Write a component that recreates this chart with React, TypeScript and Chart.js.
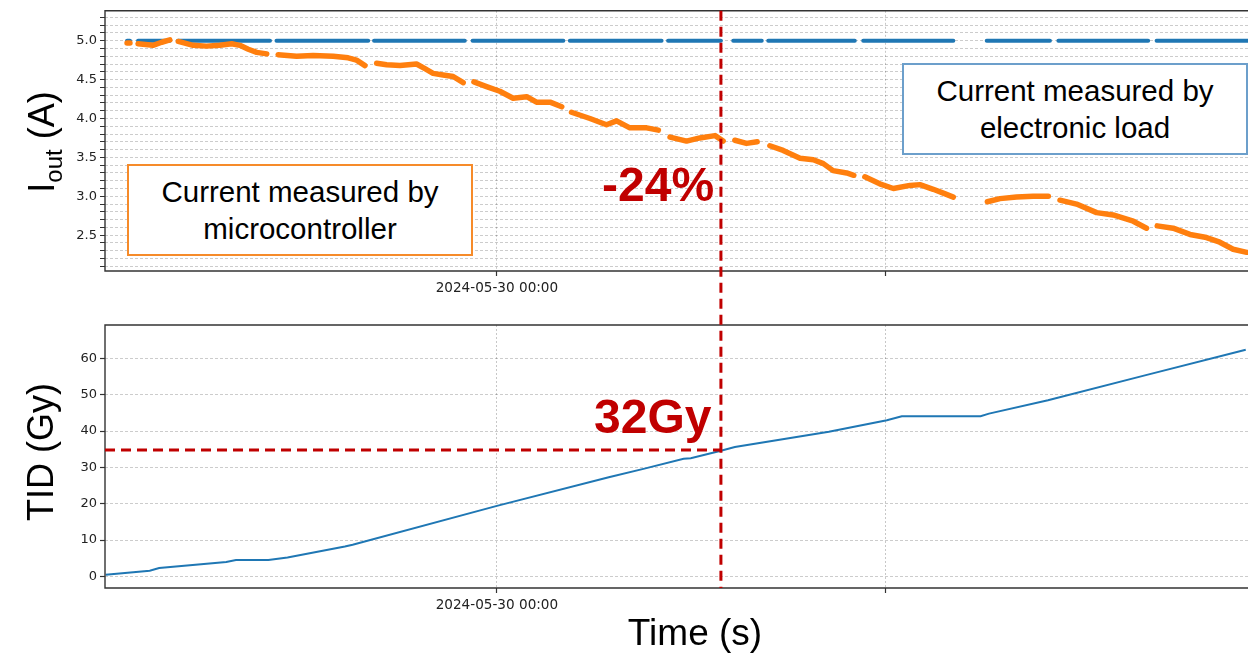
import React, { useEffect, useRef } from "react";
import { Chart, registerables } from "chart.js";

Chart.register(...registerables);

const CANVAS_W = 1248;
const CANVAS_H = 654;

// Time axis in hours relative to 2024-05-30 00:00
const timeMin = -12.09;
const timeMax = 23.17;
const timeTicks = [0, 12];
const timeTickLabels = ["2024-05-30 00:00", ""];

// Top panel: output current (A)
const currentMin = 2.04;
const currentMax = 5.384;
const currentMajorTicks = [2.5, 3.0, 3.5, 4.0, 4.5, 5.0];
const currentMinorTicks = [
  2.1, 2.2, 2.3, 2.4, 2.5, 2.6, 2.7, 2.8, 2.9, 3.0, 3.1, 3.2, 3.3, 3.4, 3.5, 3.6, 3.7,
  3.8, 3.9, 4.0, 4.1, 4.2, 4.3, 4.4, 4.5, 4.6, 4.7, 4.8, 4.9, 5.0, 5.1, 5.2, 5.3,
];

// Current measured by microcontroller (null = data gap)
const mcuTime = [
  -11.41, -11.32, -11.2,
  -11.07, -10.61, -10.34, -10.09, -9.96,
  -9.83, -9.37, -8.96, -8.55, -8.18, -7.93, -7.67, -7.41, -7.1, -6.9,
  -6.75, -6.18, -5.67, -5.05, -4.59, -4.33, -4.07, -3.9,
  -3.71, -3.4, -2.99, -2.48, -2.22, -1.97, -1.66, -1.35, -1.04, -0.9,
  -0.71, -0.32, 0.09, 0.5, 0.92, 1.22, 1.64, 2.0, 2.15,
  2.3, 2.87, 3.38, 3.69, 4.1, 4.62, 4.98, 5.15,
  5.34, 5.85, 6.26, 6.73, 6.98, 7.15,
  7.34, 7.7, 8.03, 8.2,
  8.42, 8.83, 9.35, 9.76, 10.07, 10.37, 10.79, 11.01, 11.2,
  11.35, 11.81, 12.23, 12.74, 13.05, 13.46, 13.77, 14.08, 14.6,
  15.13, 15.52, 16.03, 16.54, 17.01, 17.2,
  17.37, 17.88, 18.5, 19.01, 19.63, 20.04, 20.2,
  20.37, 20.86, 21.38, 21.89, 22.3, 22.71, 23.13,
];
const mcuCurrent = [
  4.97, 4.97, null,
  4.96, 4.94, 4.98, 5.01, null,
  4.99, 4.94, 4.93, 4.94, 4.96, 4.94, 4.89, 4.85, 4.83, null,
  4.82, 4.8, 4.81, 4.8, 4.78, 4.75, 4.68, null,
  4.71, 4.69, 4.68, 4.7, 4.64, 4.58, 4.56, 4.54, 4.46, null,
  4.47, 4.41, 4.35, 4.26, 4.28, 4.21, 4.21, 4.15, null,
  4.08, 4.0, 3.92, 3.97, 3.88, 3.88, 3.85, null,
  3.76, 3.71, 3.75, 3.78, 3.71, null,
  3.72, 3.68, 3.7, null,
  3.65, 3.59, 3.49, 3.47, 3.42, 3.33, 3.3, 3.27, null,
  3.25, 3.16, 3.1, 3.14, 3.15, 3.09, 3.04, 2.99, null,
  2.93, 2.97, 2.99, 3.0, 3.0, null,
  2.95, 2.9, 2.79, 2.76, 2.68, 2.59, null,
  2.62, 2.59, 2.51, 2.47, 2.41, 2.32, 2.28,
];

// Current measured by electronic load (null = data gap)
const loadTime = [
  -11.41, -11.32, -11.2,
  -11.07, -10.09, -9.96,
  -9.84, -7.0, -6.9,
  -6.8, -3.97, -3.9,
  -3.79, -0.99, -0.9,
  -0.75, 2.05, 2.15,
  2.25, 5.08, 5.15,
  5.28, 6.91, 7.1,
  7.29, 8.17, 8.25,
  8.37, 11.04, 11.2,
  11.3, 14.08, 14.6,
  15.11, 17.06, 17.2,
  17.32, 20.09, 20.2,
  20.35, 23.17,
];
const loadCurrent = [
  5.0, 5.0, null,
  5.0, 5.0, null,
  5.0, 5.0, null,
  5.0, 5.0, null,
  5.0, 5.0, null,
  5.0, 5.0, null,
  5.0, 5.0, null,
  5.0, 5.0, null,
  5.0, 5.0, null,
  5.0, 5.0, null,
  5.0, 5.0, null,
  5.0, 5.0, null,
  5.0, 5.0, null,
  5.0, 5.0,
];

// Bottom panel: total ionizing dose (Gy)
const doseMin = -3.2;
const doseMax = 69.2;
const doseTicks = [0, 10, 20, 30, 40, 50, 60];
const tidTime = [
  -12.07, -10.71, -10.42, -8.35, -8.05, -7.05, -6.46, -4.69, -4.45, 0.0, 3.45, 4.52,
  5.76, 5.98, 6.91, 7.34, 10.24, 12.03, 12.49, 14.92, 15.18, 17.0, 20.02, 23.1,
];
const tidDose = [
  0.47, 1.57, 2.3, 3.95, 4.5, 4.5, 5.2, 8.2, 8.7, 19.4, 27.3, 29.6,
  32.4, 32.5, 34.6, 35.6, 39.8, 43.0, 44.1, 44.1, 44.8, 48.5, 55.4, 62.4,
];

// Red annotation
const markerTime = 6.91;
const markerDose = 34.8;

const BLUE = "#1f77b4";
const ORANGE = "#ff7f0e";
const RED = "#C00000";
const TICK_FONT = "'DejaVu Sans', sans-serif";
const TEXT_FONT = "'Liberation Sans', Arial, sans-serif";

const zip = (xs: number[], ys: (number | null)[]) => xs.map((x, i) => ({ x, y: ys[i] }));

const framePlugin = {
  id: "frame",
  afterDraw(chart: any) {
    const { ctx, chartArea: a } = chart;
    ctx.save();
    ctx.strokeStyle = "#333333";
    ctx.lineWidth = 1.4;
    ctx.setLineDash([]);
    ctx.beginPath();
    ctx.moveTo(a.right + 5, a.top);
    ctx.lineTo(a.left, a.top);
    ctx.lineTo(a.left, a.bottom);
    ctx.lineTo(a.right + 5, a.bottom);
    ctx.stroke();
    ctx.restore();
  },
};

function timeScale(axisHeight: number) {
  return {
    type: "linear" as const,
    min: timeMin,
    max: timeMax,
    afterBuildTicks: (s: any) => {
      s.ticks = timeTicks.map((v) => ({ value: v }));
    },
    afterFit: (s: any) => {
      s.height = axisHeight;
    },
    ticks: {
      autoSkip: false,
      maxRotation: 0,
      padding: 4,
      color: "#222",
      font: { family: TICK_FONT, size: 13.6 },
      callback: (v: any) => {
        const i = timeTicks.indexOf(Number(v));
        return i >= 0 ? timeTickLabels[i] : "";
      },
    },
    grid: {
      color: "rgba(0,0,0,0.22)",
      lineWidth: 1,
      drawTicks: true,
      tickLength: 5,
      tickColor: "#333",
      tickWidth: 1.2,
    },
    border: { display: false, dash: [2, 2] },
  };
}

export default function App() {
  const topRef = useRef<HTMLCanvasElement | null>(null);
  const botRef = useRef<HTMLCanvasElement | null>(null);

  useEffect(() => {
    if (!topRef.current || !botRef.current) return;

    const topChart = new Chart(topRef.current, {
      type: "line",
      data: {
        datasets: [
          {
            data: zip(mcuTime, mcuCurrent),
            borderColor: ORANGE,
            borderWidth: 5.5,
            pointRadius: 0,
            borderCapStyle: "round",
            borderJoinStyle: "round",
            spanGaps: false,
            tension: 0,
          },
          {
            data: zip(loadTime, loadCurrent),
            borderColor: BLUE,
            borderWidth: 4,
            pointRadius: 0,
            borderCapStyle: "round",
            spanGaps: false,
          },
        ],
      },
      options: {
        animation: false,
        responsive: false,
        devicePixelRatio: 1,
        events: [],
        layout: { padding: { top: 8, left: 0, right: 0, bottom: 0 } },
        plugins: { legend: { display: false }, tooltip: { enabled: false } },
        scales: {
          x: timeScale(CANVAS_H - 271),
          y: {
            type: "linear",
            min: currentMin,
            max: currentMax,
            afterBuildTicks: (s: any) => {
              s.ticks = currentMinorTicks.map((v) => ({ value: v }));
            },
            afterFit: (s: any) => {
              s.width = 105;
            },
            ticks: {
              autoSkip: false,
              padding: 3,
              color: "#222",
              font: { family: TICK_FONT, size: 13 },
              callback: (v: any) => {
                const n = Number(v);
                return currentMajorTicks.some((m) => Math.abs(m - n) < 1e-6) ? n.toFixed(1) : "";
              },
            },
            grid: {
              color: "rgba(0,0,0,0.2)",
              lineWidth: 1,
              drawTicks: true,
              tickLength: 5,
              tickColor: "#333",
              tickWidth: 1,
            },
            border: { display: false, dash: [3, 2] },
          },
        },
      },
      plugins: [framePlugin],
    });

    const markerPlugin = {
      id: "markers",
      afterDraw(chart: any) {
        const { ctx, chartArea: a } = chart;
        const x = chart.scales.x.getPixelForValue(markerTime);
        const y = chart.scales.y.getPixelForValue(markerDose);
        const top = topChart.chartArea ? topChart.chartArea.top : 8;
        ctx.save();
        ctx.strokeStyle = RED;
        ctx.lineWidth = 3;
        ctx.setLineDash([10, 6]);
        ctx.beginPath();
        ctx.moveTo(x, top);
        ctx.lineTo(x, a.bottom);
        ctx.stroke();
        ctx.beginPath();
        ctx.moveTo(a.left, y);
        ctx.lineTo(x, y);
        ctx.stroke();
        ctx.restore();
      },
    };

    const botChart = new Chart(botRef.current, {
      type: "line",
      data: {
        datasets: [
          {
            data: zip(tidTime, tidDose),
            borderColor: BLUE,
            borderWidth: 2,
            pointRadius: 0,
            tension: 0,
          },
        ],
      },
      options: {
        animation: false,
        responsive: false,
        devicePixelRatio: 1,
        events: [],
        layout: { padding: { top: 325, left: 0, right: 0, bottom: 0 } },
        plugins: { legend: { display: false }, tooltip: { enabled: false } },
        scales: {
          x: timeScale(CANVAS_H - 588),
          y: {
            type: "linear",
            min: doseMin,
            max: doseMax,
            afterBuildTicks: (s: any) => {
              s.ticks = doseTicks.map((v) => ({ value: v }));
            },
            afterFit: (s: any) => {
              s.width = 105;
            },
            ticks: {
              autoSkip: false,
              padding: 3,
              color: "#222",
              font: { family: TICK_FONT, size: 13 },
              callback: (v: any) => String(v),
            },
            grid: {
              color: "rgba(0,0,0,0.2)",
              lineWidth: 1,
              drawTicks: true,
              tickLength: 5,
              tickColor: "#333",
              tickWidth: 1.2,
            },
            border: { display: false, dash: [3, 2] },
          },
        },
      },
      plugins: [framePlugin, markerPlugin],
    });

    return () => {
      botChart.destroy();
      topChart.destroy();
    };
  }, []);

  const canvasStyle: React.CSSProperties = {
    position: "absolute",
    left: 0,
    top: 0,
    width: CANVAS_W,
    height: CANVAS_H,
    display: "block",
  };

  const boxStyle = (left: number, top: number, color: string): React.CSSProperties => ({
    position: "absolute",
    left,
    top,
    width: 346,
    height: 92,
    boxSizing: "border-box",
    border: `2.5px solid ${color}`,
    background: "#fff",
    display: "flex",
    alignItems: "center",
    justifyContent: "center",
    textAlign: "center",
    fontFamily: TEXT_FONT,
    fontSize: 29.5,
    lineHeight: "37px",
    color: "#000",
  });

  const redText = (left: number, top: number): React.CSSProperties => ({
    position: "absolute",
    left,
    top,
    fontFamily: TEXT_FONT,
    fontWeight: "bold",
    fontSize: 48,
    lineHeight: "48px",
    color: RED,
    whiteSpace: "nowrap",
  });

  const rotated = (cx: number, cy: number): React.CSSProperties => ({
    position: "absolute",
    left: cx - 100,
    top: cy - 18,
    width: 200,
    height: 36,
    lineHeight: "36px",
    fontFamily: TEXT_FONT,
    fontSize: 36,
    textAlign: "center",
    whiteSpace: "nowrap",
    color: "#000",
    transform: "rotate(-90deg)",
  });

  return (
    <div
      style={{
        position: "absolute",
        left: 0,
        top: 0,
        width: CANVAS_W,
        height: CANVAS_H,
        background: "#fff",
        overflow: "hidden",
      }}
    >
      <canvas ref={topRef} width={CANVAS_W} height={CANVAS_H} style={canvasStyle} />
      <canvas ref={botRef} width={CANVAS_W} height={CANVAS_H} style={canvasStyle} />

      <div style={boxStyle(127, 164, "#F68B2A")}>
        Current measured by
        <br />
        microcontroller
      </div>
      <div style={boxStyle(902, 63, "#6C9FCB")}>
        Current measured by
        <br />
        electronic load
      </div>

      <div style={redText(602, 161)}>-24%</div>
      <div style={redText(594, 393)}>32Gy</div>

      <div style={rotated(42, 142)}>
        I<span style={{ fontSize: 24, position: "relative", top: 8 }}>out</span> (A)
      </div>
      <div style={rotated(41, 452)}>TID (Gy)</div>
      <div
        style={{
          position: "absolute",
          left: 595,
          top: 615,
          width: 200,
          height: 36,
          lineHeight: "36px",
          fontFamily: TEXT_FONT,
          fontSize: 37,
          textAlign: "center",
          whiteSpace: "nowrap",
          color: "#000",
        }}
      >
        Time (s)
      </div>
    </div>
  );
}
